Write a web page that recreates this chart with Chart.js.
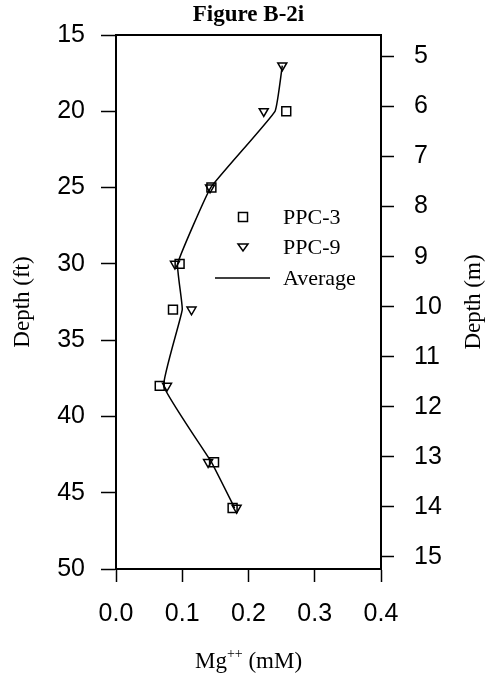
<!DOCTYPE html>
<html>
<head>
<meta charset="utf-8">
<title>Figure B-2i</title>
<script src="https://cdn.jsdelivr.net/npm/chart.js@4.4.1/dist/chart.umd.min.js"></script>
<style>
  html, body { margin: 0; padding: 0; background: #fff; }
  canvas { display: block; }
</style>
</head>
<body>
<canvas id="mg-chart" width="488" height="677"></canvas>
<script>
// Mg++ vs depth
const ppc3Depth = [20, 25, 30, 33, 38, 43, 46];
const ppc3Mg = [0.257, 0.144, 0.096, 0.086, 0.066, 0.148, 0.176];

const ppc9Depth = [17, 20, 25, 30, 33, 38, 43, 46];
const ppc9Mg = [0.251, 0.223, 0.142, 0.089, 0.114, 0.077, 0.139, 0.182];

const avgDepth = [17, 20, 25, 30, 33, 38, 43, 46];
const avgMg = [0.251, 0.240, 0.143, 0.093, 0.100, 0.072, 0.144, 0.179];

// tick labels
const mgTicks = [0, 0.1, 0.2, 0.3, 0.4];
const ftTicks = [15, 20, 25, 30, 35, 40, 45, 50];
const mTicks = [5, 6, 7, 8, 9, 10, 11, 12, 13, 14, 15];

const FT_PER_M = 3.2808;
const serif = '"Liberation Serif", "Times New Roman", serif';
const sans = '"Liberation Sans", Arial, sans-serif';

function toPoints(xs, ys) {
    return xs.map((v, i) => ({ x: v, y: ys[i] }));
}

function setTicks(list) {
    return scale => { scale.ticks = list.map(v => ({ value: v })); };
}

// title, axis titles, top frame line and the legend inside the plot
const decorations = {
    id: 'decorations',
    afterDraw(chart) {
        const ctx = chart.ctx;
        const area = chart.chartArea;
        const cx = (area.left + area.right) / 2;
        const cy = (area.top + area.bottom) / 2;
        ctx.save();
        ctx.strokeStyle = '#000';
        ctx.fillStyle = '#000';

        // top of the frame
        ctx.lineWidth = 2;
        ctx.beginPath();
        ctx.moveTo(area.left - 1, area.top);
        ctx.lineTo(area.right + 1, area.top);
        ctx.stroke();

        // heading
        ctx.font = 'bold 23px ' + serif;
        ctx.textAlign = 'center';
        ctx.textBaseline = 'alphabetic';
        ctx.fillText('Figure B-2i', cx, 21);

        // x title with superscript
        ctx.textAlign = 'left';
        ctx.font = '23px ' + serif;
        const w1 = ctx.measureText('Mg').width;
        const w3 = ctx.measureText(' (mM)').width;
        ctx.font = '14px ' + serif;
        const w2 = ctx.measureText('++').width;
        let x = cx - (w1 + w2 + w3) / 2;
        const base = 668;
        ctx.font = '23px ' + serif;
        ctx.fillText('Mg', x, base);
        ctx.font = '14px ' + serif;
        ctx.fillText('++', x + w1, base - 10);
        ctx.font = '23px ' + serif;
        ctx.fillText(' (mM)', x + w1 + w2, base);

        // y titles, both reading bottom to top
        ctx.textAlign = 'center';
        ctx.textBaseline = 'middle';
        ctx.font = '23px ' + serif;
        ctx.save();
        ctx.translate(23, cy);
        ctx.rotate(-Math.PI / 2);
        ctx.fillText('Depth (ft)', 0, 0);
        ctx.restore();
        ctx.save();
        ctx.translate(474, cy);
        ctx.rotate(-Math.PI / 2);
        ctx.fillText('Depth (m)', 0, 0);
        ctx.restore();

        // legend
        const lx = area.left + 127;
        const tx = area.left + 167;
        ctx.lineWidth = 1.5;
        ctx.strokeRect(lx - 4.5, 217 - 4.5, 9, 9);
        ctx.beginPath();
        ctx.moveTo(lx - 5, 244);
        ctx.lineTo(lx + 5, 244);
        ctx.lineTo(lx, 251);
        ctx.closePath();
        ctx.stroke();
        ctx.beginPath();
        ctx.moveTo(area.left + 99, 278);
        ctx.lineTo(area.left + 154, 278);
        ctx.stroke();

        ctx.textAlign = 'left';
        ctx.font = '22px ' + serif;
        ctx.fillText(chart.data.datasets[1].label, tx, 218);
        ctx.fillText(chart.data.datasets[2].label, tx, 248);
        ctx.fillText(chart.data.datasets[0].label, tx, 279);
        ctx.restore();
    }
};

const axisBorder = { display: true, color: '#000', width: 2 };
const tickGrid = { drawOnChartArea: false, drawTicks: true, color: '#000', tickColor: '#000', tickWidth: 1.5 };

new Chart(document.getElementById('mg-chart').getContext('2d'), {
    type: 'scatter',
    data: {
        datasets: [
            {
                label: 'Average',
                data: toPoints(avgMg, avgDepth),
                showLine: true,
                borderColor: '#000',
                borderWidth: 1.5,
                tension: 0.1,
                pointRadius: 0,
                yAxisID: 'y'
            },
            {
                label: 'PPC-3',
                data: toPoints(ppc3Mg, ppc3Depth),
                showLine: false,
                pointStyle: 'rect',
                pointRadius: 6.3,
                borderColor: '#000',
                borderWidth: 1.5,
                backgroundColor: 'rgba(0,0,0,0)',
                yAxisID: 'y'
            },
            {
                label: 'PPC-9',
                data: toPoints(ppc9Mg, ppc9Depth),
                showLine: false,
                pointStyle: 'triangle',
                rotation: 180,
                pointRadius: 5.2,
                borderColor: '#000',
                borderWidth: 1.5,
                backgroundColor: 'rgba(0,0,0,0)',
                yAxisID: 'y'
            }
        ]
    },
    options: {
        responsive: false,
        animation: false,
        layout: { padding: { top: 33, left: 0, right: 0, bottom: 0 } },
        plugins: {
            legend: { display: false },
            title: { display: false },
            tooltip: { enabled: false }
        },
        scales: {
            x: {
                type: 'linear',
                position: 'bottom',
                min: 0,
                max: 0.4,
                afterBuildTicks: setTicks(mgTicks),
                afterFit: s => { s.height = 108; },
                border: axisBorder,
                grid: Object.assign({}, tickGrid, { tickLength: 13 }),
                ticks: {
                    color: '#000',
                    font: { family: sans, size: 25 },
                    padding: 17,
                    maxRotation: 0,
                    callback: v => v.toFixed(1)
                }
            },
            y: {
                type: 'linear',
                position: 'left',
                reverse: true,
                min: 15,
                max: 50,
                afterBuildTicks: setTicks(ftTicks),
                afterFit: s => { s.width = 116; },
                border: axisBorder,
                grid: Object.assign({}, tickGrid, { tickLength: 15 }),
                ticks: {
                    color: '#000',
                    font: { family: sans, size: 25 },
                    padding: 16
                }
            },
            y2: {
                type: 'linear',
                position: 'right',
                reverse: true,
                min: 15 / FT_PER_M,
                max: 50 / FT_PER_M,
                afterBuildTicks: setTicks(mTicks),
                afterFit: s => { s.width = 107; },
                border: axisBorder,
                grid: Object.assign({}, tickGrid, { tickLength: 13 }),
                ticks: {
                    color: '#000',
                    font: { family: sans, size: 25 },
                    padding: 20
                }
            }
        }
    },
    plugins: [decorations]
});
</script>
</body>
</html>
